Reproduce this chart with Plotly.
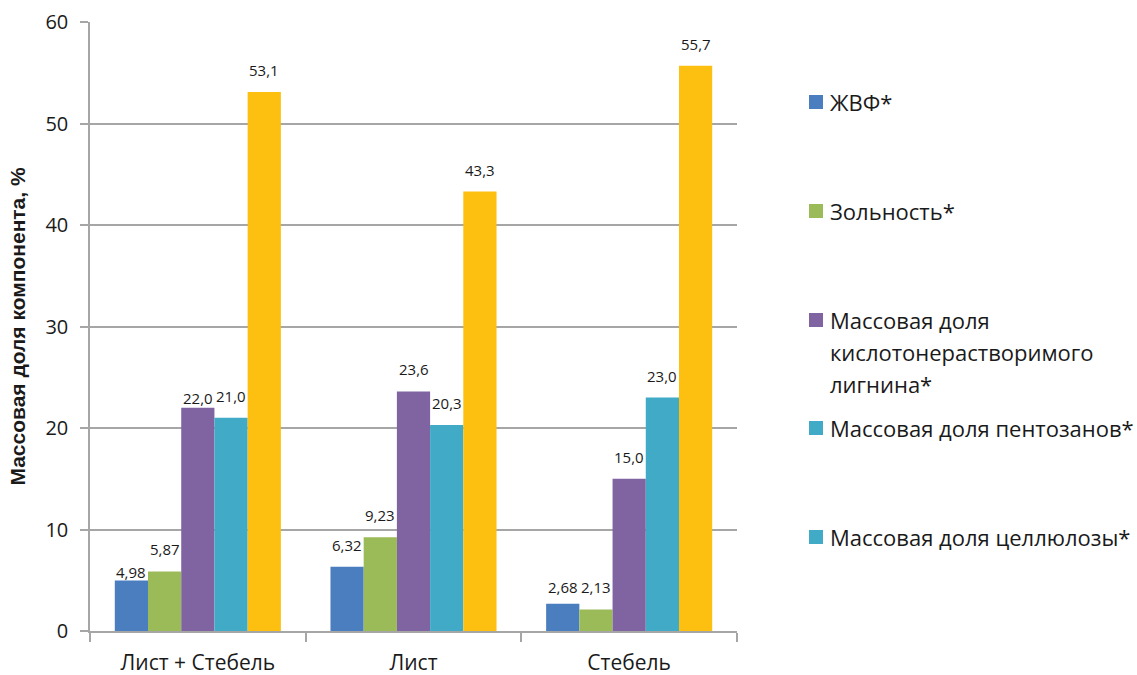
import plotly.graph_objects as go

# --- data -------------------------------------------------------------
categories = ["Лист + Стебель", "Лист", "Стебель"]

series_names = [
    "ЖВФ*",
    "Зольность*",
    "Массовая доля кислотонерастворимого лигнина*",
    "Массовая доля пентозанов*",
    "Массовая доля целлюлозы*",
]
zhvf = [4.98, 6.32, 2.68]
ash = [5.87, 9.23, 2.13]
lignin = [22.0, 23.6, 15.0]
pentosans = [21.0, 20.3, 23.0]
cellulose = [53.1, 43.3, 55.7]
label_decimals = [2, 2, 1, 1, 1]

# legend text, one entry per series, split into lines
legend_lines = [
    ["ЖВФ*"],
    ["Зольность*"],
    ["Массовая доля", "кислотонерастворимого", "лигнина*"],
    ["Массовая доля пентозанов*"],
    ["Массовая доля целлюлозы*"],
]

y_ticks = [0, 10, 20, 30, 40, 50, 60]
y_title = "Массовая доля компонента, %"

# --- styling ------------------------------------------------------------
bar_colors = ["#4A7EBF", "#9BBB59", "#8064A2", "#40AAC7", "#FDC010"]
legend_colors = ["#4A7EBF", "#9BBB59", "#8064A2", "#40AAC7", "#40AAC7"]
grid_color = "#A6A6A6"
text_color = "#1a1a1a"
FONT = "Open Sans"

W, H = 1137, 675
M_L, M_R, M_T, M_B = 90, 400, 22, 44
PW = W - M_L - M_R
PH = H - M_T - M_B
BARGAP = 0.23

# a few labels are lifted less so they clear their neighbours
label_nudge = {(0, 0): -14, (2, 0): -12, (0, 2): -5}


def px_x(px):
    return (px - M_L) / PW


def px_y(py):
    return (H - M_B - py) / PH


def fmt(v, d):
    return f"{v:.{d}f}".replace(".", ",")


all_values = [zhvf, ash, lignin, pentosans, cellulose]

fig = go.Figure()
for name, vals, col in zip(series_names, all_values, bar_colors):
    fig.add_trace(go.Bar(
        x=categories, y=vals, name=name, showlegend=False,
        marker=dict(color=col, line=dict(width=0)),
    ))

# value labels above each bar
n = len(all_values)
cat_px = PW / len(categories)
bar_px = cat_px * (1 - BARGAP) / n
annotations = []
for i, (vals, d) in enumerate(zip(all_values, label_decimals)):
    for j, v in enumerate(vals):
        annotations.append(dict(
            x=categories[j], y=v, xref="x", yref="y",
            text=fmt(v, d), showarrow=False,
            xanchor="center", yanchor="bottom",
            xshift=(i - (n - 1) / 2) * bar_px,
            yshift=10 + label_nudge.get((i, j), 0),
            font=dict(family=FONT, size=15, color=text_color),
        ))

# legend drawn beside the plot
shapes = []
item_centers = [102, 211, 320, 428, 537]
line_step = 32
for lines, col, cy in zip(legend_lines, legend_colors, item_centers):
    shapes.append(dict(
        type="rect", xref="paper", yref="paper",
        x0=px_x(809), x1=px_x(823), y0=px_y(cy + 7), y1=px_y(cy - 7),
        fillcolor=col, line=dict(width=0),
    ))
    for k, line in enumerate(lines):
        annotations.append(dict(
            x=px_x(828), y=px_y(cy + k * line_step), xref="paper", yref="paper",
            text=line, showarrow=False, xanchor="left", yanchor="middle",
            font=dict(family=FONT, size=22, color=text_color),
        ))

fig.update_layout(
    width=W, height=H,
    margin=dict(l=M_L, r=M_R, t=M_T, b=M_B),
    paper_bgcolor="white", plot_bgcolor="white",
    barmode="group", bargap=BARGAP, bargroupgap=0,
    annotations=annotations, shapes=shapes,
    showlegend=False,
)
fig.update_xaxes(
    type="category", showgrid=False, automargin=False,
    showline=True, linecolor=grid_color, linewidth=1.5,
    ticks="outside", tickson="boundaries", ticklen=9,
    tickcolor=grid_color, tickwidth=1.5,
    tickfont=dict(family=FONT, size=21, color=text_color),
    ticklabelstandoff=12,
)
fig.update_yaxes(
    range=[0, 60], tickvals=y_ticks, automargin=False,
    showgrid=True, gridcolor=grid_color, gridwidth=1.5,
    showline=True, linecolor=grid_color, linewidth=1.5,
    ticks="outside", ticklen=8, tickcolor=grid_color, tickwidth=1.5,
    tickfont=dict(family=FONT, size=20, color=text_color),
    ticklabelstandoff=8,
    zeroline=False,
    title=dict(text=y_title, standoff=14,
               font=dict(family="Liberation Sans Narrow, Liberation Sans",
                         size=21, color=text_color, weight="bold")),
)

fig.write_html("out.html")
